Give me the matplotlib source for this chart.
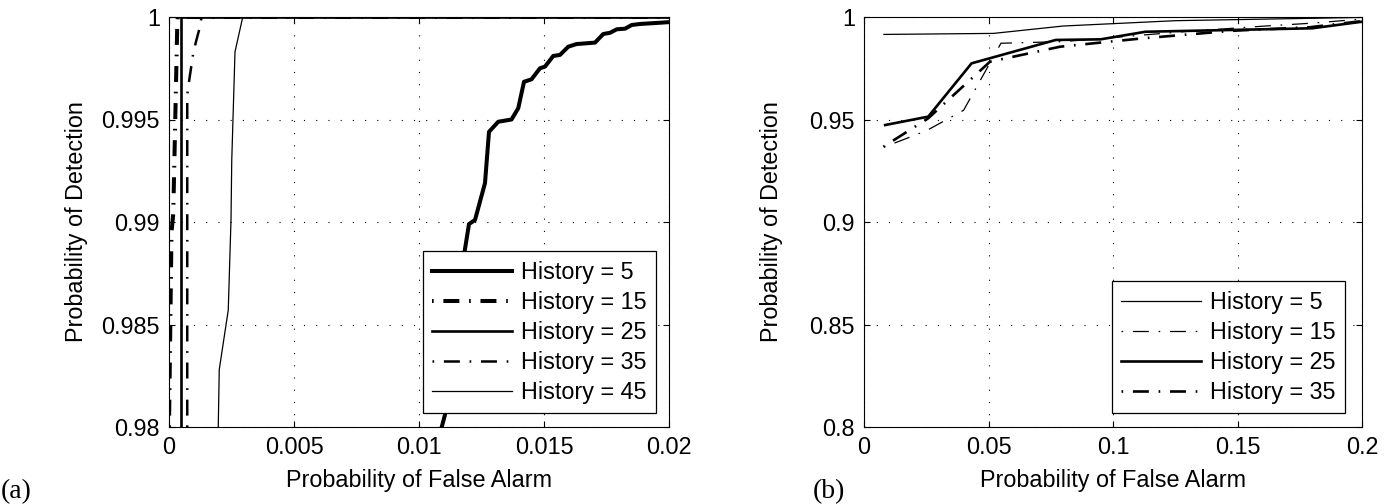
import matplotlib
matplotlib.use("Agg")
import matplotlib.pyplot as plt

plt.rcParams['font.family'] = ['Liberation Sans', 'DejaVu Sans']
plt.rcParams['font.size'] = 16.8
plt.rcParams['lines.scale_dashes'] = False

# ---------------- data: panel (a) ----------------
a_labels = ["History = 5", "History = 15", "History = 25", "History = 35", "History = 45"]
a_h5_x = [0.01091, 0.01104, 0.0114, 0.01177, 0.0120, 0.01224, 0.01264, 0.0128, 0.01317, 0.0137,
          0.01397, 0.0142, 0.0145, 0.01484, 0.01504, 0.01537, 0.01564, 0.01597, 0.0163, 0.01704,
          0.01737, 0.01764, 0.01791, 0.01824, 0.01851, 0.01884, 0.01964, 0.02]
a_h5_y = [0.98, 0.9806, 0.9845, 0.98815, 0.9899, 0.9901, 0.9919, 0.9944, 0.99489, 0.9950,
          0.99555, 0.99684, 0.99696, 0.9975, 0.99758, 0.9981, 0.99815, 0.99855, 0.99868, 0.99875,
          0.99917, 0.99923, 0.9994, 0.99943, 0.99961, 0.99966, 0.99972, 0.99975]
a_h15_x = [0.0, 0.0001, 0.00017, 0.00033, 0.00035, 0.02]
a_h15_y = [0.98, 0.9895, 0.9904, 0.9996, 1.0, 1.0]
a_h25_x = [0.00047, 0.00047, 0.02]
a_h25_y = [0.98, 1.0, 1.0]
a_h35_x = [0.00073, 0.00073, 0.00081, 0.00097, 0.00108, 0.00124, 0.0013, 0.02]
a_h35_y = [0.98, 0.9962, 0.99693, 0.99823, 0.9988, 0.99953, 1.0, 1.0]
a_h45_x = [0.00197, 0.00201, 0.00237, 0.00248, 0.00251, 0.00264, 0.00295, 0.02]
a_h45_y = [0.98, 0.9828, 0.9857, 0.9901, 0.993, 0.9983, 1.0, 1.0]
a_xticks = [0, 0.005, 0.01, 0.015, 0.02]
a_xticklabels = ["0", "0.005", "0.01", "0.015", "0.02"]
a_yticks = [0.98, 0.985, 0.99, 0.995, 1.0]
a_yticklabels = ["0.98", "0.985", "0.99", "0.995", "1"]

# ---------------- data: panel (b) ----------------
b_labels = ["History = 5", "History = 15", "History = 25", "History = 35"]
b_h5_x = [0.008, 0.052, 0.08, 0.125, 0.2]
b_h5_y = [0.9915, 0.992, 0.9956, 0.9982, 0.9998]
b_h15_x = [0.008, 0.025, 0.04, 0.055, 0.08, 0.1, 0.13, 0.16, 0.18, 0.2]
b_h15_y = [0.9365, 0.9445, 0.9545, 0.9872, 0.988, 0.990, 0.993, 0.9955, 0.997, 0.999]
b_h25_x = [0.0085, 0.0258, 0.0432, 0.077, 0.095, 0.113, 0.18, 0.2]
b_h25_y = [0.9473, 0.9514, 0.9774, 0.9888, 0.9891, 0.9928, 0.9945, 0.9977]
b_h35_x = [0.0078, 0.0258, 0.0506, 0.0787, 0.0948, 0.112, 0.148, 0.179, 0.2]
b_h35_y = [0.9367, 0.9506, 0.9782, 0.9855, 0.9875, 0.9896, 0.9933, 0.995, 0.998]
b_xticks = [0, 0.05, 0.1, 0.15, 0.2]
b_xticklabels = ["0", "0.05", "0.1", "0.15", "0.2"]
b_yticks = [0.8, 0.85, 0.9, 0.95, 1.0]
b_yticklabels = ["0.8", "0.85", "0.9", "0.95", "1"]

DASHDOT = (18.5, (11.5, 7.0, 1.2, 7.0))
GRID = (0, (0.8, 8.0))

W, H = 1395, 504
fig = plt.figure(figsize=(W / 100, H / 100), dpi=100)
ax1 = fig.add_axes([169 / W, 77 / H, 500 / W, 410 / H])
ax2 = fig.add_axes([864 / W, 77 / H, 498 / W, 410 / H])

ax1.plot(a_h5_x, a_h5_y, color='k', lw=2.9, ls='-', label=a_labels[0])
ax1.plot(a_h15_x, a_h15_y, color='k', lw=2.9, ls=DASHDOT, label=a_labels[1])
ax1.plot(a_h25_x, a_h25_y, color='k', lw=1.9, ls='-', label=a_labels[2])
ax1.plot(a_h35_x, a_h35_y, color='k', lw=1.8, ls=DASHDOT, label=a_labels[3])
ax1.plot(a_h45_x, a_h45_y, color='k', lw=0.9, ls='-', label=a_labels[4])

ax2.plot(b_h5_x, b_h5_y, color='k', lw=0.9, ls='-', label=b_labels[0])
ax2.plot(b_h15_x, b_h15_y, color='k', lw=0.9, ls=DASHDOT, label=b_labels[1])
ax2.plot(b_h25_x, b_h25_y, color='k', lw=1.9, ls='-', label=b_labels[2])
ax2.plot(b_h35_x, b_h35_y, color='k', lw=1.9, ls=DASHDOT, label=b_labels[3])

for ax, xt, xtl, yt, ytl, lp in [(ax1, a_xticks, a_xticklabels, a_yticks, a_yticklabels, 10),
                                 (ax2, b_xticks, b_xticklabels, b_yticks, b_yticklabels, 19)]:
    ax.set_xlim(xt[0], xt[-1])
    ax.set_ylim(yt[0], yt[-1])
    ax.set_xticks(xt)
    ax.set_xticklabels(xtl)
    ax.set_yticks(yt)
    ax.set_yticklabels(ytl)
    ax.tick_params(direction='in', top=True, right=True, length=4, width=0.8, pad=6.5,
                   labelsize=16.8)
    ax.grid(True, color='k', lw=0.8, ls=GRID)
    ax.set_axisbelow(True)
    for s in ax.spines.values():
        s.set_linewidth(0.8)
    ax.set_xlabel("Probability of False Alarm", labelpad=7)
    ax.set_ylabel("Probability of Detection", labelpad=lp)

leg_kw = dict(loc='lower right', borderaxespad=0, fancybox=False, edgecolor='k',
              framealpha=1, handlelength=3.4, handletextpad=0.4, labelspacing=0.3,
              borderpad=0.4, fontsize=16.8)
l1 = ax1.legend(bbox_to_anchor=(0.974, 0.034), **leg_kw)
l2 = ax2.legend(bbox_to_anchor=(0.966, 0.034), **leg_kw)
for l in (l1, l2):
    l.get_frame().set_linewidth(0.9)

fig.text(1 / W, 1 - 498 / H, "(a)", family=['Liberation Serif'], fontsize=20, va='baseline')
fig.text(813 / W, 1 - 498 / H, "(b)", family=['Liberation Serif'], fontsize=20, va='baseline')

fig.savefig("out.png", dpi=100)
